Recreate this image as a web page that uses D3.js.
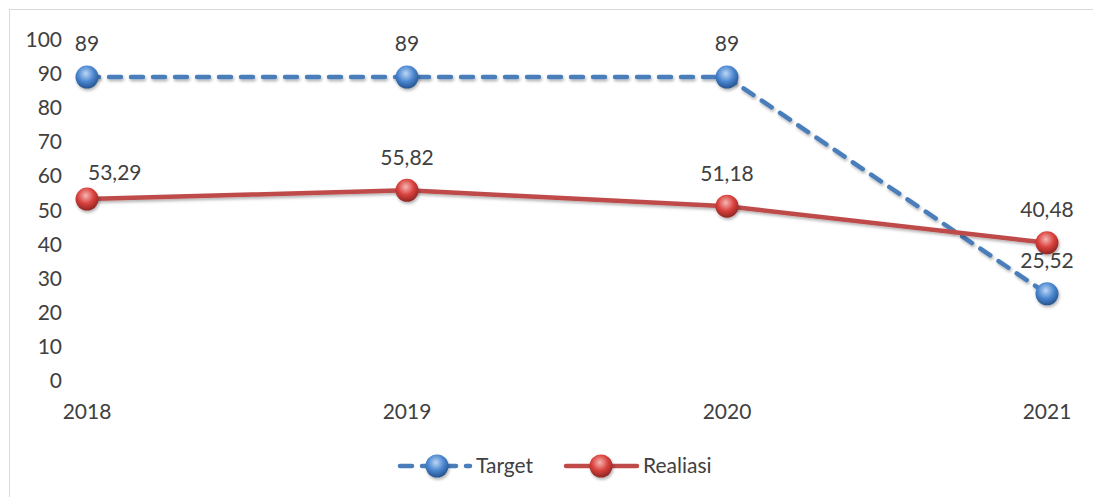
<!DOCTYPE html>
<meta charset="utf-8">
<script src="https://d3js.org/d3.v7.min.js"></script>
<style>
  body { margin: 0; background: #fff; }
  text { font-family: Lato, "Open Sans", sans-serif; fill: #404040; }
</style>
<div id="chart"></div>
<script>
// data
var years = ["2018", "2019", "2020", "2021"];
var target = [89, 89, 89, 25.52];
var realiasi = [53.29, 55.82, 51.18, 40.48];
var targetLabels = ["89", "89", "89", "25,52"];
var realiasiLabels = ["53,29", "55,82", "51,18", "40,48"];
var yTicks = [0, 10, 20, 30, 40, 50, 60, 70, 80, 90, 100];

var W = 1093, H = 497;
var svg = d3.select("#chart").append("svg")
    .attr("width", W).attr("height", H);

var defs = svg.append("defs");
var shadow = defs.append("filter").attr("id", "shadow")
    .attr("x", "-20%").attr("y", "-20%").attr("width", "140%").attr("height", "160%");
shadow.append("feDropShadow").attr("dx", 1).attr("dy", 2).attr("stdDeviation", 1.5)
    .attr("flood-color", "#000").attr("flood-opacity", 0.3);

function ball(id, light, mid, dark) {
  var g = defs.append("radialGradient").attr("id", id)
      .attr("cx", "45%").attr("cy", "35%").attr("r", "65%");
  g.append("stop").attr("offset", "0%").attr("stop-color", light);
  g.append("stop").attr("offset", "55%").attr("stop-color", mid);
  g.append("stop").attr("offset", "100%").attr("stop-color", dark);
}
ball("gBlue", "#bcd6f5", "#4a86cf", "#26538d");
ball("gRed", "#f5b6b4", "#d9403c", "#8e2624");

// frame
svg.append("rect").attr("x", 9.5).attr("y", 9.5).attr("width", W).attr("height", H)
    .attr("fill", "none").attr("stroke", "#d9d9d9");

var x = d3.scalePoint().domain(years).range([87, 1047]);
var y = d3.scaleLinear().domain([0, 100]).range([381, 39.5]);

var fs = "21px";

// y axis labels
svg.append("g").selectAll("text").data(yTicks).enter().append("text")
    .attr("x", 62).attr("y", function(d) { return y(d); })
    .attr("dy", "0.35em").attr("text-anchor", "end")
    .style("font-size", fs).text(function(d) { return d; });

// x axis labels
svg.append("g").selectAll("text").data(years).enter().append("text")
    .attr("x", function(d) { return x(d); }).attr("y", 412)
    .attr("dy", "0.35em").attr("text-anchor", "middle")
    .style("font-size", fs).text(function(d) { return d; });

var line = d3.line()
    .x(function(d, i) { return x(years[i]); })
    .y(function(d) { return y(d); });

svg.append("path").datum(target)
    .attr("d", line).attr("fill", "none")
    .attr("stroke", "#4a7ebb").attr("stroke-width", 4.5)
    .attr("stroke-dasharray", "12,10").attr("stroke-linecap", "round")
    .attr("filter", "url(#shadow)");

svg.append("path").datum(realiasi)
    .attr("d", line).attr("fill", "none")
    .attr("stroke", "#be4b48").attr("stroke-width", 4.5)
    .attr("filter", "url(#shadow)");

function markers(data, grad) {
  svg.append("g").selectAll("circle").data(data).enter().append("circle")
      .attr("cx", function(d, i) { return x(years[i]); })
      .attr("cy", function(d) { return y(d); })
      .attr("r", 11.5).attr("fill", "url(#" + grad + ")")
      .attr("filter", "url(#shadow)");
}
markers(target, "gBlue");
markers(realiasi, "gRed");

// data labels; the first Realiasi label is nudged right like the original
function labels(data, txt, nudgeFirst) {
  svg.append("g").selectAll("text").data(data).enter().append("text")
      .attr("x", function(d, i) { return (nudgeFirst && i === 0) ? x(years[i]) + 1 : x(years[i]); })
      .attr("y", function(d, i) { return y(d) - ((nudgeFirst && i === 0) ? 26 : 33); })
      .attr("dy", "0.35em")
      .attr("text-anchor", function(d, i) { return (nudgeFirst && i === 0) ? "start" : "middle"; })
      .style("font-size", fs)
      .text(function(d, i) { return txt[i]; });
}
labels(target, targetLabels, false);
labels(realiasi, realiasiLabels, true);

// legend
var ly = 466;
var lg = svg.append("g");
lg.append("line").attr("x1", 400).attr("x2", 470).attr("y1", ly).attr("y2", ly)
    .attr("stroke", "#4a7ebb").attr("stroke-width", 4.5)
    .attr("stroke-dasharray", "12,10").attr("stroke-linecap", "round");
lg.append("circle").attr("cx", 437).attr("cy", ly).attr("r", 11.5)
    .attr("fill", "url(#gBlue)").attr("filter", "url(#shadow)");
lg.append("text").attr("x", 476).attr("y", ly).attr("dy", "0.35em")
    .style("font-size", fs).text("Target");
lg.append("line").attr("x1", 566).attr("x2", 637).attr("y1", ly).attr("y2", ly)
    .attr("stroke", "#be4b48").attr("stroke-width", 4.5).attr("stroke-linecap", "round");
lg.append("circle").attr("cx", 601).attr("cy", ly).attr("r", 11.5)
    .attr("fill", "url(#gRed)").attr("filter", "url(#shadow)");
lg.append("text").attr("x", 643).attr("y", ly).attr("dy", "0.35em")
    .style("font-size", fs).text("Realiasi");
</script>
